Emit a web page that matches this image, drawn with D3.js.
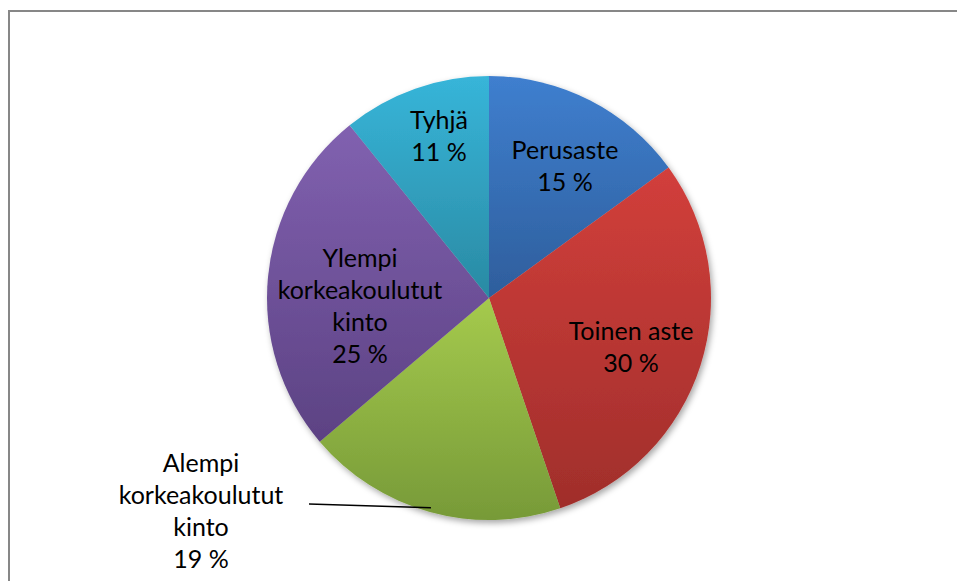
<!DOCTYPE html>
<html>
<head>
<meta charset="utf-8">
<script src="https://cdn.jsdelivr.net/npm/d3@7"></script>
<style>
  html, body { margin: 0; padding: 0; background: #fff; }
  svg { display: block; }
</style>
</head>
<body>
<svg id="chart" width="957" height="581"></svg>
<script>
// data
var categories = ["Perusaste", "Toinen aste", "Alempi korkeakoulutut kinto", "Ylempi korkeakoulutut kinto", "Tyhjä"];
var values = [15.0, 29.8, 19.0, 25.4, 10.8];
var labelLines = [
	["Perusaste"],
	["Toinen aste"],
	["Alempi", "korkeakoulutut", "kinto"],
	["Ylempi", "korkeakoulutut", "kinto"],
	["Tyhjä"]
];
var colorsTop = ["#3f7fcf", "#d23f3b", "#a5ca4d", "#8161b0", "#37b5d9"];
var colorsBottom = ["#2e5e9c", "#a02e2b", "#779a38", "#5c4283", "#2a8aa3"];

var svg = d3.select("#chart");
var cx = 489, cy = 298, radius = 222;

// chart frame, runs past right and bottom edge like the original
svg.append("rect")
	.attr("x", 9).attr("y", 11)
	.attr("width", 1000).attr("height", 700)
	.attr("fill", "none")
	.attr("stroke", "#878787")
	.attr("stroke-width", 2);

var defs = svg.append("defs");

var shadow = defs.append("filter").attr("id", "shadow")
	.attr("x", "-10%").attr("y", "-10%").attr("width", "120%").attr("height", "120%");
shadow.append("feDropShadow")
	.attr("dx", 2).attr("dy", 3)
	.attr("stdDeviation", 3)
	.attr("flood-color", "#000")
	.attr("flood-opacity", 0.35);

categories.forEach(function(c, i) {
	var g = defs.append("linearGradient")
		.attr("id", "grad" + i)
		.attr("x1", 0).attr("y1", 0).attr("x2", 0).attr("y2", 1);
	g.append("stop").attr("offset", "0%").attr("stop-color", colorsTop[i]);
	g.append("stop").attr("offset", "100%").attr("stop-color", colorsBottom[i]);
});

var pie = d3.pie().sort(null).value(function(d) { return d; });
var arcs = pie(values);
var arc = d3.arc().innerRadius(0).outerRadius(radius);
var total = d3.sum(values);

var pieG = svg.append("g")
	.attr("transform", "translate(" + cx + "," + cy + ")")
	.attr("filter", "url(#shadow)");

pieG.selectAll("path.slice")
	.data(arcs)
	.enter().append("path")
	.classed("slice", true)
	.attr("d", arc)
	.attr("fill", function(d, i) { return "url(#grad" + i + ")"; });

// label anchor points (centre x, first baseline), placed like the original
var labelPos = [
	{x: 565, y: 159},
	{x: 631, y: 340},
	{x: 201, y: 472},
	{x: 360, y: 267},
	{x: 439, y: 129}
];
var lineH = 32;

var labels = svg.append("g")
	.attr("font-family", "Lato, 'Open Sans', sans-serif")
	.attr("font-size", 25)
	.attr("fill", "#000")
	.attr("text-anchor", "middle");

arcs.forEach(function(d, i) {
	var lines = labelLines[i].concat([Math.round(d.value / total * 100) + " %"]);
	var t = labels.append("text")
		.attr("x", labelPos[i].x)
		.attr("y", labelPos[i].y);
	lines.forEach(function(l, j) {
		t.append("tspan")
			.attr("x", labelPos[i].x)
			.attr("dy", j === 0 ? 0 : lineH)
			.text(l);
	});
});

// leader line for the outside label
var mid = (arcs[2].startAngle + arcs[2].endAngle) / 2;
var edge = [cx + Math.sin(mid) * radius * 0.98, cy - Math.cos(mid) * radius * 0.98];
svg.append("path")
	.attr("d", d3.line()([[309, 504], edge]))
	.attr("stroke", "#000")
	.attr("stroke-width", 1.5)
	.attr("fill", "none");
</script>
</body>
</html>
